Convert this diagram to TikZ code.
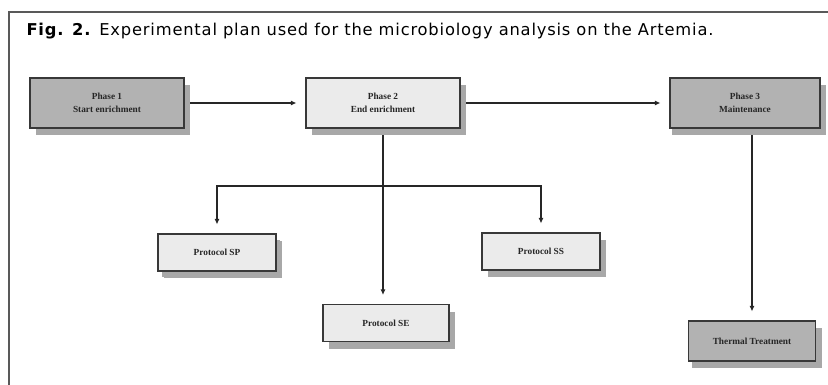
\documentclass[tikz,border=0pt]{standalone}
\usepackage{fontspec}
\setmainfont{Liberation Serif}
\newfontfamily\captionfont[LetterSpace=5]{DejaVu Sans}
\usetikzlibrary{arrows.meta,shadows,backgrounds}

\definecolor{boxdark}{gray}{0.70}
\definecolor{boxlight}{gray}{0.92}
\definecolor{shadegray}{gray}{0.66}
\definecolor{edgegray}{gray}{0.22}

\begin{document}
\begin{tikzpicture}[
  x=1pt,y=-1pt,
  every node/.style={font=\bfseries\fontsize{9.3}{13.5}\selectfont,align=center,text=black!85},
  box/.style={draw=edgegray,line width=1.1pt,inner sep=0pt,
    general shadow={fill=shadegray,shadow xshift=6pt,shadow yshift=-7pt}},
  phase/.style={box,minimum width=154pt,minimum height=50pt},
  proto/.style={box,fill=boxlight,minimum width=118pt,minimum height=37pt},
  arr/.style={-{Latex[length=5.5pt,width=5pt]},line width=1.7pt,draw=black!85,shorten >=9pt},
  frame/.style={draw=black!65,line width=1.3pt}
]
\useasboundingbox (0,0) rectangle (828,385);

% caption and frame
\draw[frame] (9,385) -- (9,12) -- (828,12);
\node[anchor=base west,font=\captionfont\fontsize{16.3}{19}\selectfont,text=black] (title) at (23,36)
  {\textbf{Fig. 2.} Experimental plan used for the microbiology analysis on the Artemia.};

% phases
\node[phase,fill=boxdark] (p1) at (107,103) {Phase 1\\Start enrichment};
\node[phase,fill=boxlight] (p2) at (383,103) {Phase 2\\End enrichment};
\node[phase,fill=boxdark,minimum width=150pt,
  general shadow={fill=shadegray,shadow xshift=2pt,shadow yshift=-7pt}] (p3) at (745,103) {Phase 3\\Maintenance};

% protocols
\node[proto,general shadow={fill=shadegray,shadow xshift=4pt,shadow yshift=-6pt}] (sp) at (217,252.5) {Protocol SP};
\node[proto] (ss) at (541,251.5) {Protocol SS};
\node[proto,minimum width=126pt] (se) at (386,323) {Protocol SE};
\node[proto,fill=boxdark,minimum width=127pt,minimum height=40pt,
  general shadow={fill=shadegray,shadow xshift=3pt,shadow yshift=-7pt}] (tt) at (752,341) {Thermal Treatment};

\coordinate (split) at (383,186);

\begin{scope}[on background layer]
\draw[arr] (p1) -- (p2);
\draw[arr] (p2) -- (p3);
\draw[arr] (p2) -- (p2 |- se.north);
\draw[arr] (split) -| (sp);
\draw[arr] (split) -| (ss);
\draw[arr] (p3.south -| tt) -- (tt);
\end{scope}
\end{tikzpicture}
\end{document}
